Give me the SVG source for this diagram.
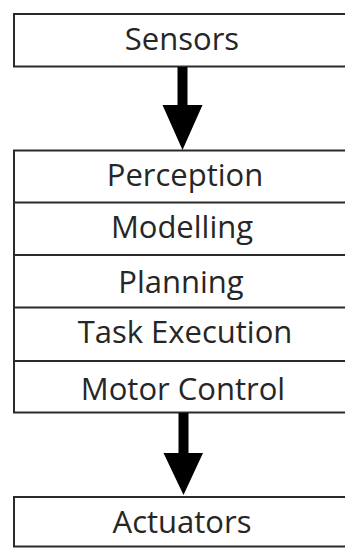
<svg xmlns="http://www.w3.org/2000/svg" width="345" height="548" viewBox="0 0 345 548">
  <style>
    .box { fill: #ffffff; stroke: #2a2a2a; stroke-width: 2; }
    .div { stroke: #2a2a2a; stroke-width: 2; fill: none; }
    .lbl { font-family: "Open Sans", "Liberation Sans", sans-serif; font-size: 31px; fill: #262626; text-anchor: middle; }
    .arrow { fill: #000000; stroke: none; }
  </style>
  <rect x="0" y="0" width="345" height="548" fill="#ffffff"/>
  <g id="sensors">
    <rect class="box" x="14" y="14" width="345" height="52.5"/>
    <text class="lbl" x="182" y="50">Sensors</text>
  </g>
  <g id="stack">
    <rect class="box" x="14" y="150.5" width="345" height="262"/>
    <g id="perception">
      <text class="lbl" x="185" y="186">Perception</text>
    </g>
    <g id="modelling">
      <line class="div" x1="14" y1="202.5" x2="359" y2="202.5"/>
      <text class="lbl" x="182" y="238">Modelling</text>
    </g>
    <g id="planning">
      <line class="div" x1="14" y1="255" x2="359" y2="255"/>
      <text class="lbl" x="181" y="293">Planning</text>
    </g>
    <g id="task-execution">
      <line class="div" x1="14" y1="307.5" x2="359" y2="307.5"/>
      <text class="lbl" x="185" y="343">Task Execution</text>
    </g>
    <g id="motor-control">
      <line class="div" x1="14" y1="361" x2="359" y2="361"/>
      <text class="lbl" x="183" y="400">Motor Control</text>
    </g>
  </g>
  <g id="actuators">
    <rect class="box" x="14" y="497" width="345" height="49.5"/>
    <text class="lbl" x="182" y="533">Actuators</text>
  </g>
  <g id="connectors">
    <path class="arrow" d="M177.5,67 H187.5 V105 H202.5 L182.5,150 L162.5,105 H177.5 Z"/>
    <path class="arrow" d="M178.5,413 H188.5 V453 H203 L183.5,495 L163.5,453 H178.5 Z"/>
  </g>
</svg>
